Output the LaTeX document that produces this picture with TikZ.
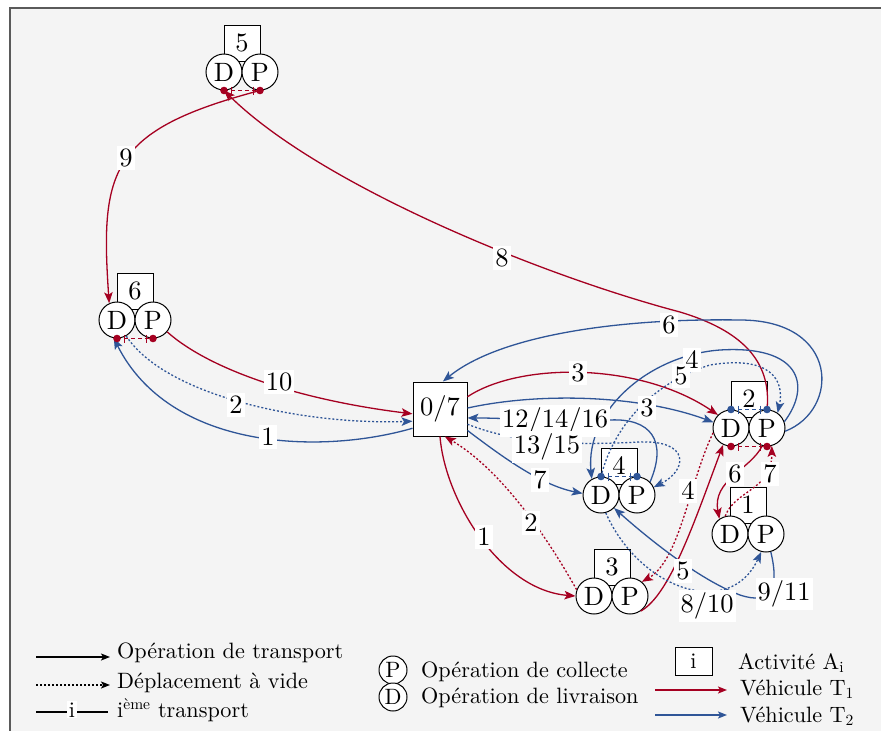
\documentclass[tikz,border=0pt]{standalone}
\usepackage{fontspec}
\setmainfont{lmroman10-regular.otf}
\usetikzlibrary{arrows.meta,calc}
\definecolor{tred}{RGB}{165,0,33}
\definecolor{tblue}{RGB}{47,85,151}
\definecolor{bggray}{RGB}{244,244,244}
\definecolor{framegray}{RGB}{90,90,90}
\newcommand\actnode[4]{%
  \node[abox] (A#1) at (#2+18,#3-29) {#4};
  \node[circ] (D#1) at (#2,#3) {D};
  \node[circ] (P#1) at (#2+36,#3) {P};
}
\newcommand\pairlink[3]{%
  \draw[#1,line width=1.2pt,dash pattern=on 4pt off 3pt] (#2) -- (#3);
  \draw[#1,line width=1pt] ($(#2)+(7,-4)$) -- ++(0,8);
  \draw[#1,line width=1pt] ($(#3)+(-7,-4)$) -- ++(0,8);
  \fill[#1] (#2) circle (3.8pt);
  \fill[#1] (#3) circle (3.8pt);
}
\begin{document}
\begin{tikzpicture}[x=1pt,y=-1pt,
  bigfont/.style={font=\fontsize{26.5}{28}\selectfont},
  legfont/.style={font=\fontsize{22.2}{24}\selectfont},
  circ/.style={circle,draw,fill=white,minimum size=36pt,inner sep=0pt,line width=1pt,bigfont},
  abox/.style={rectangle,draw,fill=white,minimum width=36pt,minimum height=36pt,inner sep=0pt,line width=1pt,bigfont},
  lab/.style={fill=white,inner xsep=2pt,inner ysep=3pt,bigfont},
  arrowtip/.style={-{Stealth[length=11pt,width=8.5pt,inset=2.5pt]}},
  smalltip/.style={-{Stealth[length=9pt,width=7pt,inset=2pt]}},
  redline/.style={tred,line width=1.3pt,arrowtip},
  reddot/.style={tred,line width=1.3pt,dash pattern=on 2pt off 2pt,arrowtip},
  blueline/.style={tblue,line width=1.3pt,arrowtip},
  bluedot/.style={tblue,line width=1.3pt,dash pattern=on 2pt off 2pt,arrowtip},
  legtext/.style={legfont,inner sep=0pt}
]
\useasboundingbox (0,0) rectangle (881,731);
\fill[bggray] (10,8) rectangle (881,731);
\draw[framegray,line width=1.5pt] (10,731) -- (10,8) -- (881,8);

% activities
\actnode{5}{224}{72}{5}
\actnode{6}{117}{320}{6}
\actnode{2}{731}{428}{2}
\actnode{4}{601}{495}{4}
\actnode{1}{730}{534}{1}
\actnode{3}{594}{596}{3}
\node[rectangle,draw,fill=white,minimum size=54pt,inner sep=0pt,line width=1pt,bigfont] (Z) at (440,409) {0/7};

% vehicle T1 (red)
\draw[redline] (P5.south) .. controls (110,130) and (100,170) .. (D6.115);
\draw[redline] (P2.north) .. controls (772,360) and (740,330) .. (680,312) .. controls (540,275) and (320,185) .. (D5.south);
\draw[redline] (P6.-40) .. controls (210,370) and (300,400) .. (Z.190);
\draw[redline] (Z.24) .. controls (520,362) and (640,362) .. (D2.135);
\draw[redline] (Z.-90) .. controls (445,500) and (500,590) .. (D3.180);
\draw[reddot] (D3.160) .. controls (560,560) and (510,475) .. (Z.-80);
\draw[reddot] (D2.195) .. controls (690,480) and (680,560) .. (P3.50);
\draw[redline] (P3.-55) .. controls (670,595) and (695,520) .. (D2.-115);
\draw[redline] (P2.-105) .. controls (750,470) and (712,480) .. (D1.125);
\draw[reddot] (D1.105) .. controls (735,490) and (772,490) .. (P2.-75);

% vehicle T2 (blue)
\draw[blueline] (Z.215) .. controls (320,455) and (170,450) .. (D6.-100);
\draw[bluedot] (D6.-60) .. controls (165,395) and (300,425) .. (Z.204);
\draw[blueline] (Z.2) .. controls (540,392) and (640,395) .. (D2.162);
\draw[blueline] (P2.-10) .. controls (840,410) and (840,320) .. (740,320) .. controls (620,318) and (500,335) .. (Z.84);
\draw[blueline] (P2.20) .. controls (812,385) and (800,345) .. (720,350) .. controls (650,355) and (585,410) .. (D4.120);
\draw[bluedot] (D4.north) .. controls (615,420) and (660,380) .. (710,365) .. controls (770,355) and (785,380) .. (P2.55);
\draw[blueline] (Z.-38) .. controls (500,455) and (540,485) .. (D4.175);
\draw[blueline] (P4.45) .. controls (668,440) and (650,418) .. (610,420) .. controls (560,422) and (510,418) .. (Z.-18);
\draw[bluedot] (Z.-29) .. controls (520,445) and (580,445) .. (640,442) .. controls (690,440) and (688,470) .. (P4.25);
\draw[bluedot] (D4.-75) .. controls (640,590) and (730,620) .. (P1.-105);
\draw[blueline] (P1.-75) .. controls (780,590) and (770,605) .. (740,595) .. controls (700,580) and (650,540) .. (D4.-45);

% links inside activities
\pairlink{tred}{D5.south}{P5.south}
\pairlink{tred}{D6.south}{P6.south}
\pairlink{tblue}{D2.north}{P2.north}
\pairlink{tred}{D2.south}{P2.south}
\pairlink{tblue}{D4.north}{P4.north}

% labels
\node[lab] (r9) at (126,158) {9};
\node[lab] (r8) at (502,258) {8};
\node[lab] (r10) at (279,382) {10};
\node[lab] (r3) at (578,373) {3};
\node[lab] (r1) at (484,537) {1};
\node[lab] (r2) at (531,523) {2};
\node[lab] (r4) at (688,491) {4};
\node[lab] (r5) at (683,571) {5};
\node[lab] (r6) at (735,474) {6};
\node[lab] (r7) at (770,474) {7};
\node[lab] (b1) at (268,437) {1};
\node[lab] (b2) at (236,405) {2};
\node[lab] (b3) at (647,408) {3};
\node[lab] (b6) at (669,325) {6};
\node[lab] (b4) at (692,360) {4};
\node[lab] (b5) at (681,376) {5};
\node[lab] (b7) at (540,480) {7};
\node[lab] (b12) at (555,421) {12/14/16};
\node[lab] (b13) at (547,447) {13/15};
\node[lab] (b8) at (707,606) {8/10};
\node[lab] (b9) at (784,594) {9/11};

% legend
\draw[black,line width=1.3pt,smalltip] (36,657) -- (110,657);
\node[legtext,anchor=base west] (t1) at (117,658) {Opération de transport};
\draw[black,line width=1.3pt,dash pattern=on 2pt off 2pt,smalltip] (36,685) -- (110,685);
\node[legtext,anchor=base west] (t2) at (117,688) {Déplacement à vide};
\draw[black,line width=1.3pt] (36,712) -- (108,712);
\node[legtext,fill=white,inner xsep=1.5pt,inner ysep=1pt,anchor=base] (ti) at (72,717) {i};
\node[legtext,anchor=base west] (t3) at (117,717) {i\textsuperscript{ème} transport};

\node[circle,draw,fill=white,minimum size=28pt,inner sep=0pt,line width=1pt,legfont] (lp) at (393,670) {P};
\node[circle,draw,fill=white,minimum size=28pt,inner sep=0pt,line width=1pt,legfont] (ld) at (393,697) {D};
\node[legtext,anchor=base west] (t4) at (421,677) {Opération de collecte};
\node[legtext,anchor=base west] (t5) at (421,703) {Opération de livraison};
\node[rectangle,draw,fill=white,minimum width=37pt,minimum height=28pt,inner sep=0pt,line width=1pt,legfont] (li) at (693.5,661) {i};
\node[legtext,anchor=base west] (t6) at (738,669) {Activité A\textsubscript{i}};
\coordinate (lr1) at (655,690);
\coordinate (lr2) at (727,690);
\draw[tred,line width=1.5pt,smalltip] (lr1) -- (lr2);
\node[legtext,anchor=base west] (t7) at (740,695) {Véhicule T\textsubscript{1}};
\coordinate (lb1) at (655,715);
\coordinate (lb2) at (727,715);
\draw[tblue,line width=1.5pt,smalltip] (lb1) -- (lb2);
\node[legtext,anchor=base west] (t8) at (740,722) {Véhicule T\textsubscript{2}};
\end{tikzpicture}
\end{document}
